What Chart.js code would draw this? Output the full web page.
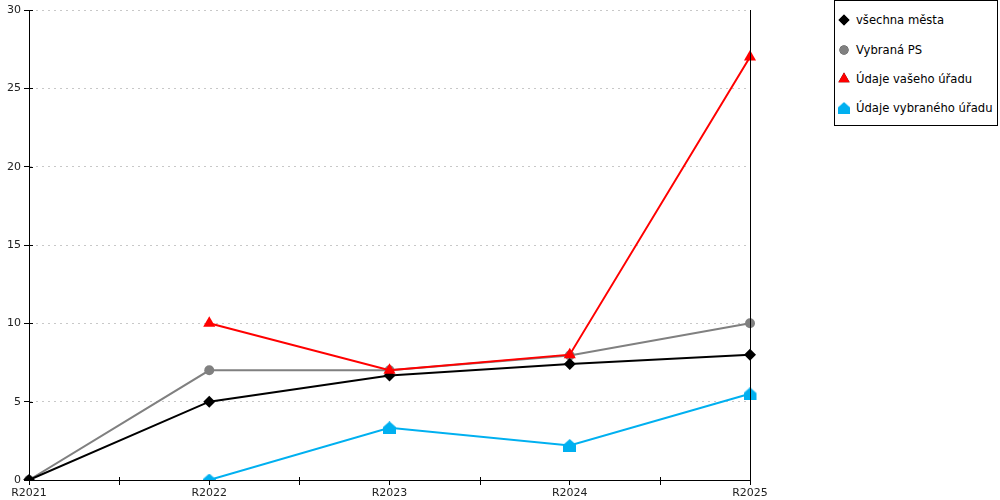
<!DOCTYPE html>
<html>
<head>
<meta charset="utf-8">
<script src="https://cdn.jsdelivr.net/npm/chart.js@4/dist/chart.umd.min.js"></script>
<style>
  body { margin: 0; background: #fff; }
  #wrap { position: relative; width: 1000px; height: 500px; }
  #legend {
    position: absolute; left: 834px; top: 0px; width: 162px; height: 124px;
    border: 1px solid #000; background: #fff;
    font-family: "DejaVu Sans", Verdana, sans-serif; font-size: 11.6px; color: #000;
  }
  .item { position: absolute; left: 2px; height: 16px; line-height: 16px; white-space: nowrap; }
  .item canvas { position: absolute; left: 0; top: 0; }
  .item span { position: absolute; left: 19px; top: 0; }
</style>
</head>
<body>
<div id="wrap">
  <canvas id="myChart" width="1000" height="500"></canvas>
  <div id="legend"></div>
</div>
<script>
const categories = ['R2021', 'R2022', 'R2023', 'R2024', 'R2025'];
const seriesNames = ['všechna města', 'Vybraná PS', 'Údaje vašeho úřadu', 'Údaje vybraného úřadu'];
const allCities = [0, 5, 6.67, 7.4, 8];
const selectedPS = [0, 7, 7, 7.95, 10];
const yourOffice = [null, 10, 7, 8, 27];
const selectedOffice = [null, 0, 3.33, 2.2, 5.5];
const yMin = 0, yMax = 30, yStep = 5;

// house shaped marker, chart.js has no such point style
function houseMarker(color, size) {
    const c = document.createElement('canvas');
    c.width = size; c.height = size;
    const g = c.getContext('2d');
    g.fillStyle = color;
    g.beginPath();
    g.moveTo(size / 2, 0);
    g.lineTo(size, size * 0.45);
    g.lineTo(size, size);
    g.lineTo(0, size);
    g.lineTo(0, size * 0.45);
    g.closePath();
    g.fill();
    return c;
}

const house = houseMarker('#00b0f0', 13);

const datasets = [
    { label: seriesNames[0], data: allCities, borderColor: '#000000', backgroundColor: '#000000',
      pointStyle: 'rectRot', pointRadius: 6, order: 2 },
    { label: seriesNames[1], data: selectedPS, borderColor: '#808080', backgroundColor: '#808080',
      pointStyle: 'circle', pointRadius: 5, order: 3 },
    { label: seriesNames[2], data: yourOffice, borderColor: '#ff0000', backgroundColor: '#ff0000',
      pointStyle: 'triangle', pointRadius: 7, order: 0 },
    { label: seriesNames[3], data: selectedOffice, borderColor: '#00b0f0', backgroundColor: '#00b0f0',
      pointStyle: house, pointRadius: 6.5, order: 1 }
];
datasets.forEach(d => {
    d.borderWidth = 2;
    d.tension = 0;
    d.pointBorderWidth = 0;
    d.pointHoverRadius = d.pointRadius;
});

const axisDeco = {
    id: 'axisDeco',
    afterDraw(chart) {
        const ctx = chart.ctx;
        const a = chart.chartArea;
        const x = chart.scales.x;
        const y = chart.scales.y;
        ctx.save();
        ctx.strokeStyle = '#000';
        ctx.lineWidth = 1;
        ctx.beginPath();
        ctx.moveTo(Math.round(a.right) + 0.5, a.top);
        ctx.lineTo(Math.round(a.right) + 0.5, a.bottom);
        for (let i = 0; i < categories.length - 1; i++) {
            const px = Math.round(x.getPixelForValue(i + 0.5)) + 0.5;
            ctx.moveTo(px, a.bottom - 3);
            ctx.lineTo(px, a.bottom + 5);
        }
        y.ticks.forEach(t => {
            const py = Math.round(y.getPixelForValue(t.value)) + 0.5;
            ctx.moveTo(a.left, py);
            ctx.lineTo(a.left + 4, py);
        });
        ctx.stroke();
        ctx.restore();
    }
};

Chart.defaults.font.family = '"DejaVu Sans", Verdana, sans-serif';
Chart.defaults.font.size = 11;
Chart.defaults.color = '#222';

const chart = new Chart(document.getElementById('myChart').getContext('2d'), {
    type: 'line',
    data: { labels: categories, datasets: datasets },
    options: {
        responsive: false,
        animation: false,
        layout: { padding: { left: 0, top: 10, right: 250, bottom: 0 } },
        plugins: { legend: { display: false }, tooltip: { enabled: false } },
        scales: {
            x: {
                offset: false,
                grid: { drawOnChartArea: false, tickLength: 5, tickColor: '#000', color: '#000' },
                border: { color: '#000', width: 1 },
                ticks: { padding: 2, maxRotation: 0, autoSkip: false },
                afterFit(s) { s.height = 20; }
            },
            y: {
                min: yMin, max: yMax,
                grid: { color: '#c8c8c8', tickColor: '#000', tickLength: 5 },
                border: { color: '#000', width: 1, dash: [2, 4] },
                ticks: { stepSize: yStep, padding: 3 },
                afterFit(s) { s.width = 29; }
            }
        }
    },
    plugins: [axisDeco]
});

// legend built from the datasets
const legend = document.getElementById('legend');
const rowTops = [11, 41, 70, 99];
datasets.forEach((d, i) => {
    const row = document.createElement('div');
    row.className = 'item';
    row.style.top = rowTops[i] + 'px';
    const c = document.createElement('canvas');
    c.width = 16; c.height = 16;
    const g = c.getContext('2d');
    if (d.pointStyle instanceof HTMLCanvasElement) {
        g.drawImage(d.pointStyle, 1, 2, 12, 12);
    } else {
        Chart.helpers.drawPoint(g, { pointStyle: d.pointStyle, radius: d.pointRadius - 0.5, borderWidth: 0 }, 7, 8);
        g.fillStyle = d.backgroundColor;
        g.fill();
    }
    const t = document.createElement('span');
    t.textContent = d.label;
    row.appendChild(c);
    row.appendChild(t);
    legend.appendChild(row);
});
</script>
</body>
</html>
